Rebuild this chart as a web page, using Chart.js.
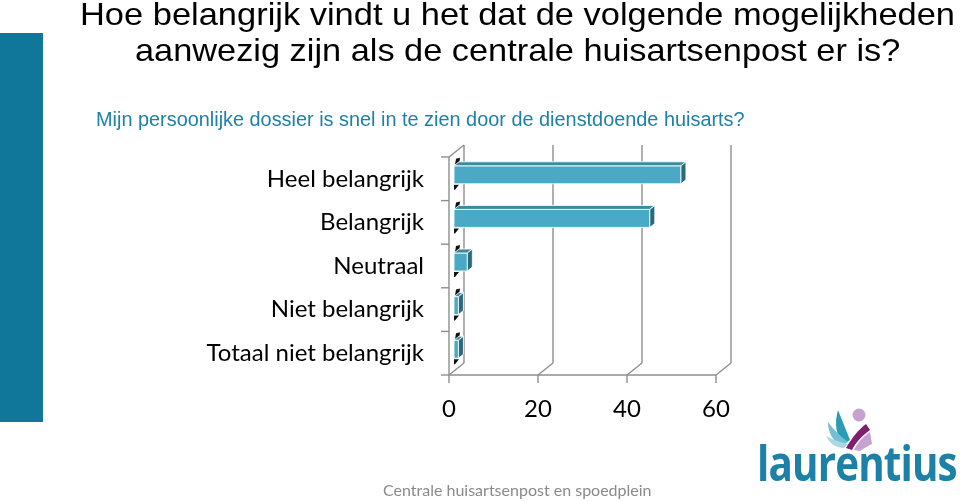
<!DOCTYPE html>
<html><head><meta charset="utf-8">
<script src="https://cdn.jsdelivr.net/npm/chart.js@4/dist/chart.umd.min.js"></script>
<style>
html,body{margin:0;padding:0;background:#fff;width:960px;height:502px;overflow:hidden;}
body{position:relative;}
#wrap{position:absolute;left:0;top:0;width:960px;height:502px;}
.t{position:absolute;white-space:nowrap;transform-origin:0 0;}
#side{position:absolute;left:0;top:33px;width:43px;height:389px;background:#10769a;}
#t1,#t2{font-family:"Liberation Sans",Arial,sans-serif;font-size:32px;color:#000;}
#t1{top:-4px;}
#t2{top:32px;}
#sub{font-family:"Liberation Sans",Arial,sans-serif;font-size:20px;color:#1f80a8;top:108px;}
#foot{font-family:Lato,"Open Sans",sans-serif;font-size:16px;color:#8a8a8a;top:480px;}
#logo{font-family:"Open Sans",Lato,sans-serif;font-weight:700;font-size:48px;color:#1d80a6;left:756px;top:430px;letter-spacing:-1px;}
#icon{position:absolute;left:822px;top:404px;}
</style></head>
<body>
<div id="wrap"><canvas id="c" width="960" height="502"></canvas></div>
<div id="side"></div>
<div class="t" id="t1">Hoe belangrijk vindt u het dat de volgende mogelijkheden</div>
<div class="t" id="t2">aanwezig zijn als de centrale huisartsenpost er is?</div>
<div class="t" id="sub">Mijn persoonlijke dossier is snel in te zien door de dienstdoende huisarts?</div>
<div class="t" id="foot">Centrale huisartsenpost en spoedplein</div>
<svg id="icon" width="56" height="48" viewBox="0 0 56 48">
  <path d="M22 40 C14 32 12 20 16 6 C20 16 24 26 28 36 Z" fill="#2a9cb6"/>
  <path d="M20 42 C12 38 6 30 6 18 C12 26 18 32 26 38 Z" fill="#74bfd1"/>
  <path d="M22 44 C14 44 8 40 4 32 C12 36 18 38 26 40 Z" fill="#a9d8e4"/>
  <circle cx="37" cy="11" r="6.5" fill="#c6a2d1"/>
  <path d="M24 44 C30 34 36 26 44 20 L48 26 C40 32 34 38 30 46 Z" fill="#7f1f6e"/>
  <path d="M32 46 C36 38 42 32 48 28 L50 40 C46 42 42 44 38 47 Z" fill="#c6a2d1"/>
</svg>
<div class="t" id="logo">laurentius</div>
<script>
const categories = ["Heel belangrijk","Belangrijk","Neutraal","Niet belangrijk","Totaal niet belangrijk"];
const values = [51,44,3,1,1];
const xTicks = [0,20,40,60];

// fit text boxes to the widths measured on the reference
function fit(id, targetW, center, left){
  const el=document.getElementById(id); const w=el.offsetWidth; const s=targetW/w;
  el.style.transform='scaleX('+s+')';
  el.style.left=(center!=null ? center-targetW/2 : left)+'px';
}
fit('t1',875,517.5);
fit('t2',765,517.5);
fit('sub',649,420.5);
fit('foot',269,517.5);
fit('logo',200,null,757);

const DX=15, DY=12, BDX=5, BDY=4, BDX2=5, BDY2=4;
function ln(ctx,x1,y1,x2,y2){ctx.beginPath();ctx.moveTo(x1,y1);ctx.lineTo(x2,y2);ctx.stroke();}
function poly(ctx,pts,fill,stroke){ctx.beginPath();ctx.moveTo(pts[0][0],pts[0][1]);for(let i=1;i<pts.length;i++)ctx.lineTo(pts[i][0],pts[i][1]);ctx.closePath();ctx.fillStyle=fill;ctx.fill();if(stroke){ctx.strokeStyle=stroke;ctx.lineWidth=1;ctx.stroke();}}

const threeD = {
  id:'threeD',
  beforeDatasetsDraw(chart){
    const ctx=chart.ctx, a=chart.chartArea, x=chart.scales.x;
    ctx.save();
    ctx.strokeStyle='#8e8e8e'; ctx.lineWidth=1.4;
    xTicks.forEach(v=>{
      const px=x.getPixelForValue(v);
      ln(ctx,px+DX,a.top-DY,px+DX,a.bottom-DY);
      ln(ctx,px,a.bottom,px+DX,a.bottom-DY);
      ln(ctx,px,a.bottom,px,a.bottom+8);
    });
    ln(ctx,a.left,a.top,a.left,a.bottom);
    ln(ctx,a.left,a.top,a.left+DX,a.top-DY);
    ln(ctx,a.left,a.bottom,x.getPixelForValue(xTicks[xTicks.length-1]),a.bottom);
    const n=categories.length;
    for(let i=0;i<=n;i++){const py=a.top+i*(a.bottom-a.top)/n;ln(ctx,a.left-8,py,a.left,py);}
    ctx.restore();
  },
  afterDatasetsDraw(chart){
    const ctx=chart.ctx;
    const meta=chart.getDatasetMeta(0);
    ctx.save();
    meta.data.forEach(el=>{
      const p=el.getProps(['x','y','base','height'],true);
      const x0=p.base+BDX, x1=p.x+BDX;
      const yT=p.y-p.height/2-BDY, yB=p.y+p.height/2-BDY;
      poly(ctx,[[x0+1,yT-1],[x0+5,yT-1],[x0+6,yT-8],[x0+2,yT-7]],'#111');
      poly(ctx,[[x0,yB+1],[x0+5,yB+1],[x0+1,yB+6],[x0,yB+6]],'#111');
      poly(ctx,[[x0,yT],[x1,yT],[x1,yB],[x0,yB]],'#4aaac6','rgba(255,255,255,0.85)');
      poly(ctx,[[x0,yT],[x1,yT],[x1+BDX2,yT-BDY2],[x0+BDX2,yT-BDY2]],'#3a8aa0','rgba(255,255,255,0.85)');
      poly(ctx,[[x1,yT],[x1+BDX2,yT-BDY2],[x1+BDX2,yB-BDY2],[x1,yB]],'#2a6a7c','rgba(255,255,255,0.85)');
    });
    ctx.restore();
  }
};

new Chart(document.getElementById('c'),{
  type:'bar',
  data:{labels:categories,datasets:[{data:values,backgroundColor:'rgba(0,0,0,0)',borderWidth:0,barThickness:18}]},
  options:{
    indexAxis:'y',responsive:false,animation:false,
    layout:{padding:{left:0,top:157,right:244,bottom:0}},
    plugins:{legend:{display:false},tooltip:{enabled:false},title:{display:false}},
    scales:{
      x:{min:0,max:60,position:'bottom',
        ticks:{stepSize:20,padding:20,color:'#000',font:{family:'Lato',size:24},maxRotation:0},
        grid:{display:false,drawTicks:false},border:{display:false},
        afterFit(s){s.height=127;}},
      y:{position:'left',
        ticks:{padding:25,color:'#000',font:{family:'Lato',size:24}},
        grid:{display:false,drawTicks:false},border:{display:false},
        afterFit(s){s.width=449;}}
    }
  },
  plugins:[threeD]
});
</script>
</body></html>
